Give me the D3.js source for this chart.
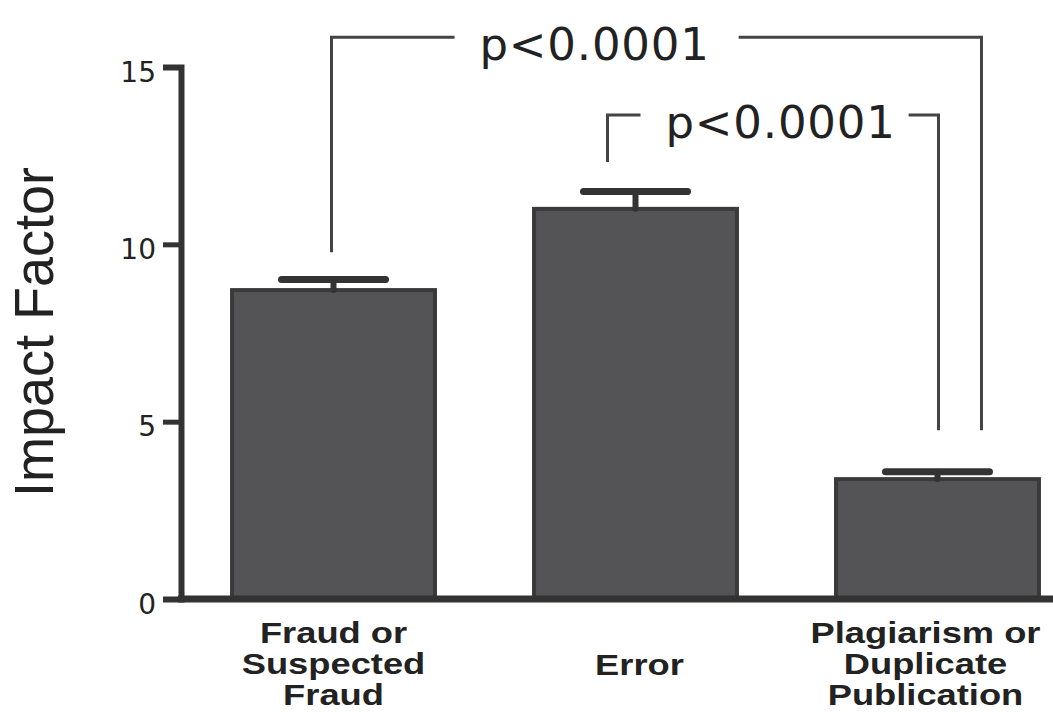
<!DOCTYPE html>
<html>
<head>
<meta charset="utf-8">
<script src="https://cdn.jsdelivr.net/npm/d3@7"></script>
<style>
  body { margin: 0; background: #fff; }
  svg { display: block; }
</style>
</head>
<body>
<div id="chart"></div>
<script>
// Data
const categories = ["Fraud or Suspected Fraud", "Error", "Plagiarism or Duplicate Publication"];
const labelLines = [["Fraud or", "Suspected", "Fraud"], ["Error"], ["Plagiarism or", "Duplicate", "Publication"]];
const means = [8.71, 11.0, 3.38];
const sems = [0.30, 0.49, 0.21];
const yTicks = [0, 5, 10, 15];
const pLabels = ["p<0.0001", "p<0.0001"];

const width = 1053, height = 712;
const margin = { top: 67, left: 181, bottom: 113 };

const svg = d3.select("#chart").append("svg")
  .attr("width", width)
  .attr("height", height);

const x = d3.scaleBand()
  .domain(categories)
  .range([margin.left, 1090])
  .paddingInner(0.328)
  .paddingOuter(0.169);

const y = d3.scaleLinear()
  .domain([0, 15])
  .range([height - margin.bottom, margin.top]);

const cx = d => x(d) + x.bandwidth() / 2;
const dark = "#333";

// bars
svg.append("g").selectAll("rect")
  .data(categories)
  .join("rect")
  .attr("x", d => x(d))
  .attr("y", (d, i) => y(means[i]))
  .attr("width", x.bandwidth())
  .attr("height", (d, i) => y(0) - y(means[i]))
  .attr("fill", "#545456")
  .attr("stroke", "#3a3a3a")
  .attr("stroke-width", 4);

// error bars (upper only)
const err = svg.append("g").attr("stroke", dark).attr("stroke-linecap", "round");
categories.forEach((c, i) => {
  err.append("line")
    .attr("x1", cx(c)).attr("x2", cx(c))
    .attr("y1", y(means[i])).attr("y2", y(means[i] + sems[i]))
    .attr("stroke-width", 6);
  err.append("line")
    .attr("x1", cx(c) - 52).attr("x2", cx(c) + 52)
    .attr("y1", y(means[i] + sems[i])).attr("y2", y(means[i] + sems[i]))
    .attr("stroke-width", 7);
});

// y axis
const yAxis = svg.append("g")
  .attr("transform", "translate(" + margin.left + ",0)")
  .call(d3.axisLeft(y).tickValues(yTicks).tickSize(18).tickSizeOuter(18).tickPadding(7));
yAxis.select(".domain").attr("stroke", dark).attr("stroke-width", 6);
yAxis.selectAll(".tick line").attr("stroke", dark).attr("stroke-width", 5);
yAxis.selectAll(".tick text")
  .attr("dy", "0.5em")
  .style("font-family", "DejaVu Sans")
  .style("font-size", "28px")
  .attr("fill", "#222");

// x axis line
svg.append("line")
  .attr("x1", margin.left - 3).attr("x2", width)
  .attr("y1", y(0)).attr("y2", y(0))
  .attr("stroke", dark).attr("stroke-width", 7);

// category labels (wide bold face, stretched horizontally)
const lab = svg.append("g")
  .style("font-family", "Liberation Sans")
  .style("font-weight", "bold")
  .style("font-size", "30px")
  .attr("fill", "#222")
  .attr("text-anchor", "middle");
const labelShift = [0, 4, -12];
categories.forEach((c, i) => {
  const lines = labelLines[i];
  const y0 = lines.length === 1 ? 675 : 643;
  lines.forEach((l, j) => {
    const t = lab.append("text")
      .attr("x", cx(c) + labelShift[i])
      .attr("y", y0 + j * 31)
      .text(l);
    t.attr("textLength", t.node().getComputedTextLength() * 1.21)
      .attr("lengthAdjust", "spacingAndGlyphs");
  });
});

// axis title
svg.append("text")
  .attr("transform", "translate(53," + 332 + ") rotate(-90)")
  .attr("text-anchor", "middle")
  .attr("textLength", 330)
  .attr("lengthAdjust", "spacingAndGlyphs")
  .style("font-family", "Liberation Sans")
  .style("font-size", "56px")
  .attr("fill", "#222")
  .text("Impact Factor");

// significance brackets: legs in data units, x relative to bar centres
const brackets = [
  { from: 0, fromDx: -2, to: 2, toDx: 44, level: 15.84, leftEnd: 9.78, rightEnd: 4.76, textDx: 148, gapL: 25, gapR: 29 },
  { from: 1, fromDx: -28, to: 2, toDx: 1, level: 13.65, leftEnd: 12.32, rightEnd: 4.76, textDx: 58, gapL: 25, gapR: 13 }
];
const ann = svg.append("g");
brackets.forEach((b, i) => {
  const xl = cx(categories[b.from]) + b.fromDx;
  const xr = cx(categories[b.to]) + b.toDx;
  const yl = y(b.level);
  const txt = ann.append("text")
    .attr("x", xl + b.textDx)
    .attr("y", yl + 23)
    .style("font-family", "DejaVu Sans")
    .style("font-size", "45px")
    .style("letter-spacing", "0.8px")
    .attr("fill", "#222")
    .text(pLabels[i]);
  const bb = txt.node().getBBox();
  const path = d3.path();
  path.moveTo(xl, y(b.leftEnd));
  path.lineTo(xl, yl);
  path.lineTo(bb.x - b.gapL, yl);
  path.moveTo(bb.x + bb.width + b.gapR, yl);
  path.lineTo(xr, yl);
  path.lineTo(xr, y(b.rightEnd));
  ann.append("path")
    .attr("d", path.toString())
    .attr("fill", "none")
    .attr("stroke", "#444")
    .attr("stroke-width", 3);
});
</script>
</body>
</html>
